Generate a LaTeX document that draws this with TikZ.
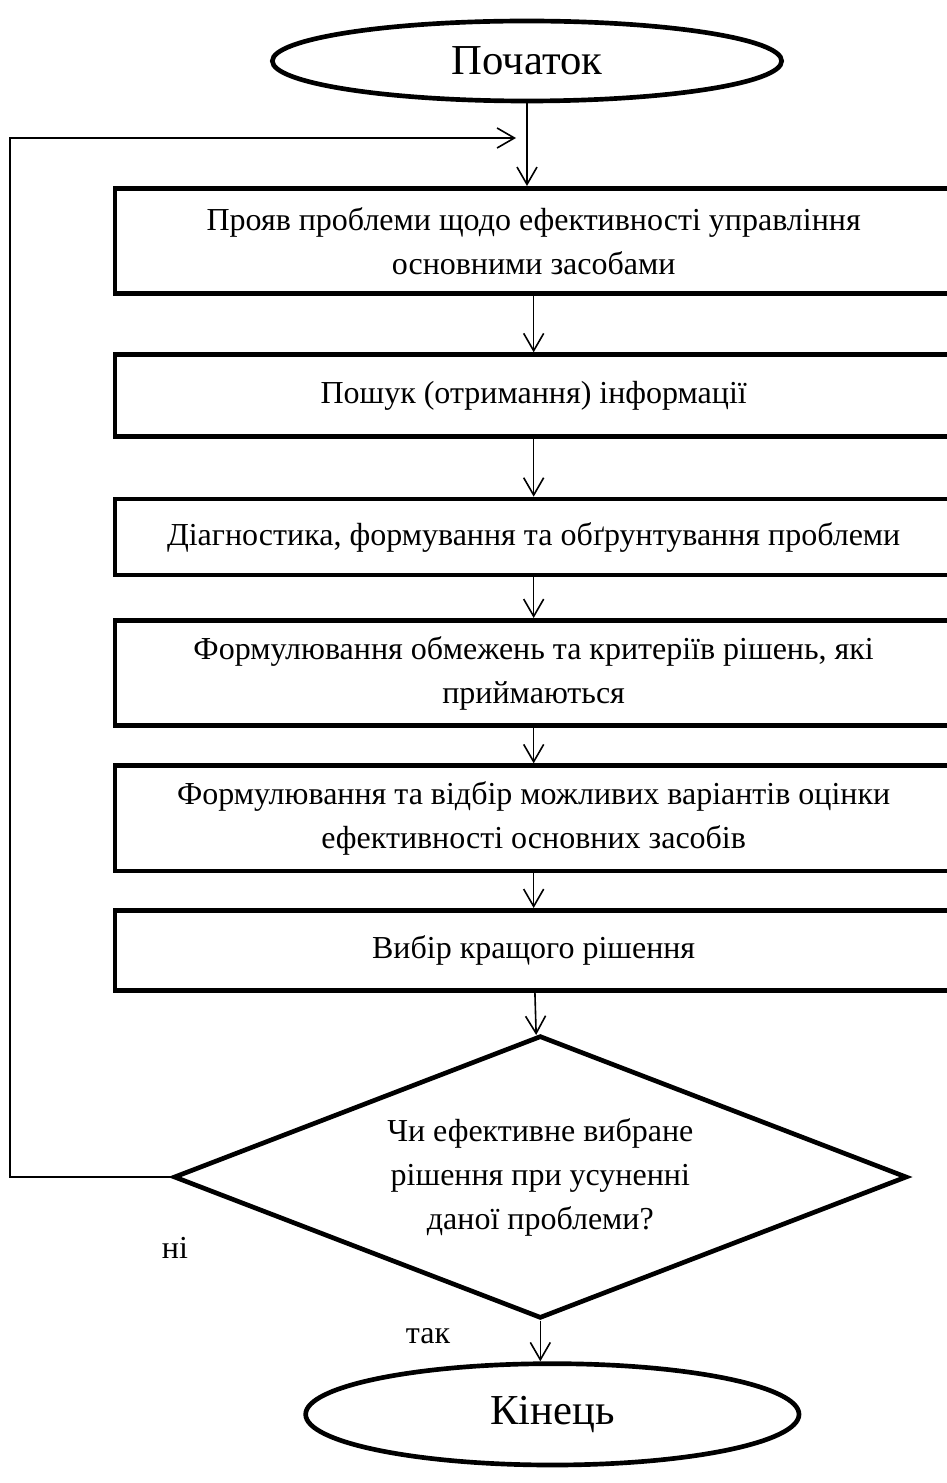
\documentclass[tikz,border=0pt]{standalone}
\usepackage{fontspec}
\setmainfont{Liberation Serif}
\usetikzlibrary{positioning,shapes.geometric,arrows.meta}

\tikzset{
  stepbox/.style={rectangle, draw, line width=3.5pt, minimum width=628pt,
    align=center, font=\fontsize{24}{33}\selectfont},
  terminal/.style={ellipse, draw, line width=3.5pt, font=\fontsize{32}{36}\selectfont},
  decision/.style={diamond, draw, line width=3.5pt, aspect=2.6, minimum width=550pt,
    minimum height=212pt, inner sep=0pt, align=center, font=\fontsize{24}{33}\selectfont},
  label/.style={font=\fontsize{24}{28}\selectfont},
  flow/.style={line width=1.2pt}
}

\begin{document}
\begin{tikzpicture}[x=0.75pt,y=-0.75pt,on grid,
    >={Straight Barb[length=13pt,width=15pt]}]
   \useasboundingbox (0,0) rectangle (946,1483);

   \node[terminal, minimum width=382pt, minimum height=60pt] (start) at (527,61) {Початок};
   \node[stepbox, minimum height=79pt] (prob) [below=135pt of start, xshift=5pt]
        {Прояв проблеми щодо ефективності управління\\основними засобами};
   \node[stepbox, minimum height=61.5pt] (info) [below=116pt of prob]
        {Пошук (отримання) інформації};
   \node[stepbox, minimum height=57pt] (diag) [below=106pt of info]
        {Діагностика, формування та обґрунтування проблеми};
   \node[stepbox, minimum height=79pt] (crit) [below=102pt of diag]
        {Формулювання обмежень та критеріїв рішень, які\\приймаються};
   \node[stepbox, minimum height=79pt] (alt) [below=109pt of crit]
        {Формулювання та відбір можливих варіантів оцінки\\ефективності основних засобів};
   \node[stepbox, minimum height=60pt] (best) [below=99pt of alt]
        {Вибір кращого рішення};
   \node[decision] (check) [below=170pt of best, xshift=5pt]
        {Чи ефективне вибране\\рішення при усуненні\\даної проблеми?};
   \node[terminal, minimum width=370pt, minimum height=76pt] (finish) [below=178pt of check, xshift=9pt] {Кінець};

   \node[label] (no) at (175,1248) {ні};
   \node[label] (yes) at (428,1336) {так};

   \coordinate (corner) at (10,138);
   \coordinate (loopend) at (516,138);

   \path[->, flow]
    (start.south) edge (start.south |- prob.north)
    (prob)  edge (info)
    (info)  edge (diag)
    (diag)  edge (crit)
    (crit)  edge (alt)
    (alt)   edge (best)
    (best)  edge (check)
    (check.south) edge (check.south |- finish.north);

   \draw[->, flow] (check.west) -| (corner) -- (loopend);
\end{tikzpicture}
\end{document}
